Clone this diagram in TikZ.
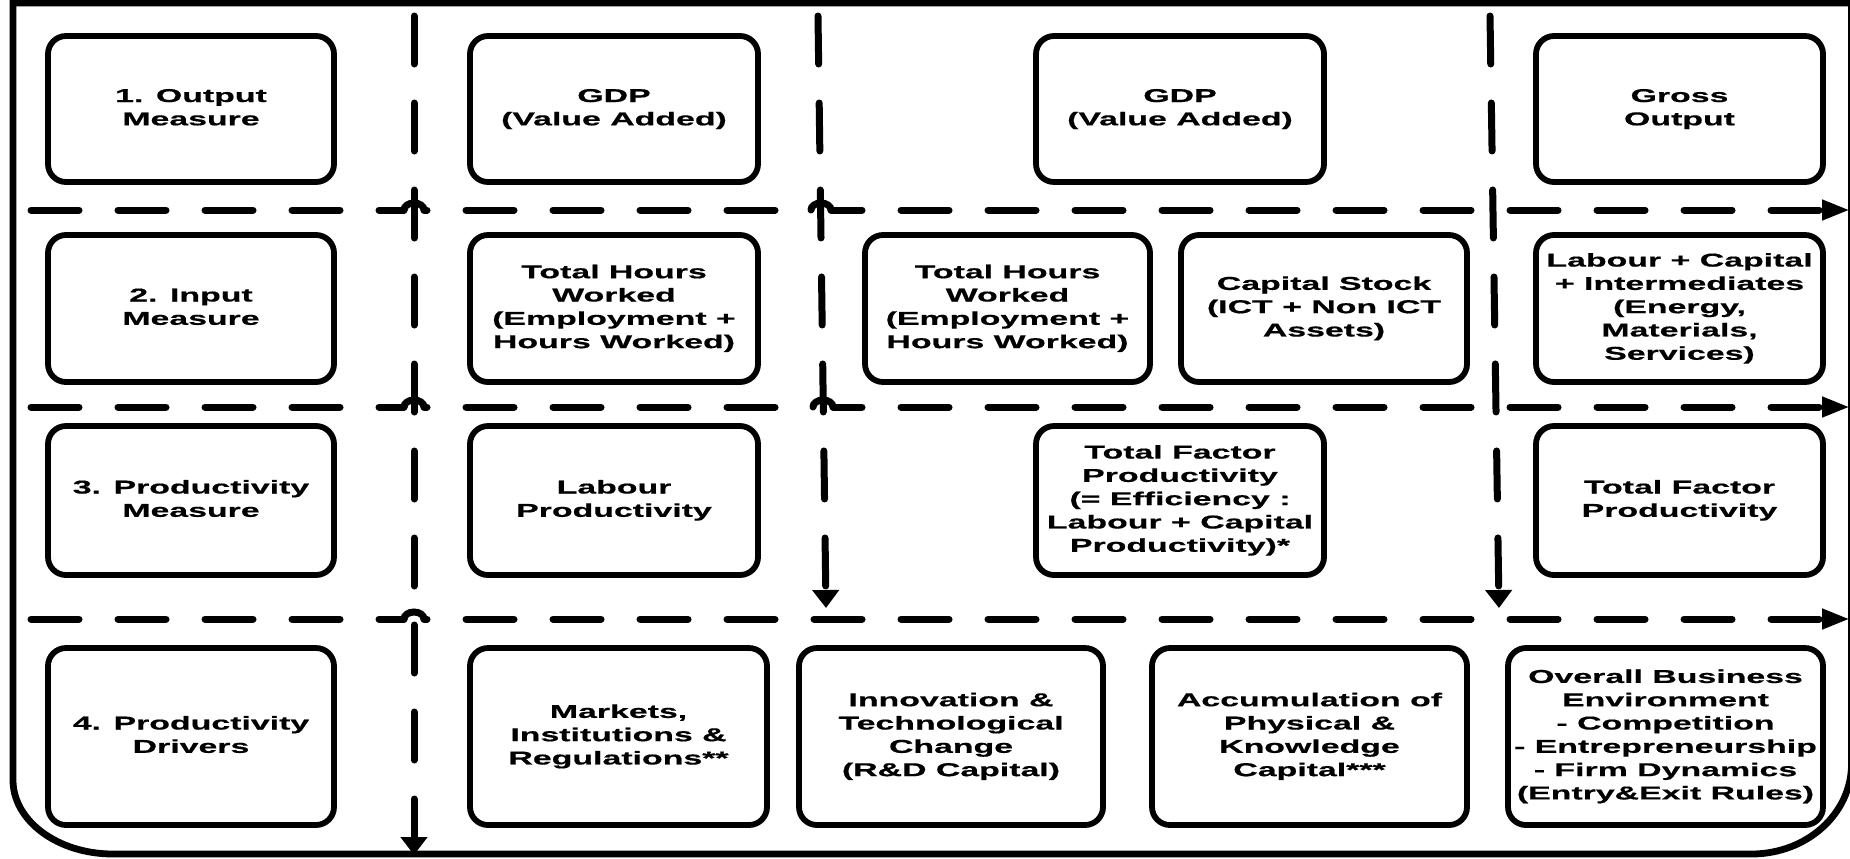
\documentclass[tikz,border=0pt]{standalone}
\usepackage{fontspec}
\newfontfamily\bxfont{Liberation Sans}[FakeStretch=1.82,FakeBold=0.6]
\usetikzlibrary{arrows.meta}
\newcommand\cell[6]{\node[box, minimum width={(#4-#2)*0.5pt}, minimum height={(#5-#3)*0.5pt}] (#1) at ({(#2+#4)/2},{(#3+#5)/2}) {\strut#6\strut};}
\begin{document}
\begin{tikzpicture}[x=0.5pt,y=-0.5pt,
  box/.style={draw, line width=2.9pt, rounded corners=9pt, align=center, inner sep=0pt,
    font=\bxfont\bfseries\fontsize{9.3}{11.65}\selectfont},
  dline/.style={line width=3.5pt, line cap=round, dash pattern=on 24pt off 19.5pt},
  hopline/.style={line width=3.5pt, line cap=round},
  frame/.style={line width=3.4pt},
  harrow/.style={-{Triangle[length=14pt,width=9.5pt]}},
  varrow/.style={-{Triangle[length=9pt,width=13pt]}}
]
\useasboundingbox (0,0) rectangle (1850,858);
% outer frame
\draw[frame] (13,3) -- (1851.5,3) -- (1851.5,764) arc[start angle=0,end angle=-90,x radius=50pt,y radius=45pt]
  -- (113,854) arc[start angle=-90,end angle=-180,x radius=50pt,y radius=37pt] -- cycle;
% boxes
\cell{o1}{48}{36}{334}{182}{1. Output\\Measure}
\cell{o2}{470}{36}{758}{182}{GDP\\(Value Added)}
\cell{o3}{1036}{36}{1324}{182}{GDP\\(Value Added)}
\cell{o4}{1536}{36}{1823}{182}{Gross\\Output}
\cell{i1}{48}{235}{334}{382}{2. Input\\Measure}
\cell{i2}{470}{235}{758}{382}{Total Hours\\Worked\\(Employment +\\Hours Worked)}
\cell{i3}{865}{235}{1150}{382}{Total Hours\\Worked\\(Employment +\\Hours Worked)}
\cell{i4}{1181}{235}{1467}{382}{Capital Stock\\(ICT + Non ICT\\Assets)}
\cell{i5}{1536}{235}{1823}{382}{Labour + Capital\\+ Intermediates\\(Energy,\\Materials,\\Services)}
\cell{p1}{48}{426}{334}{575}{3. Productivity\\Measure}
\cell{p2}{470}{426}{758}{575}{Labour\\Productivity}
\cell{p3}{1036}{426}{1324}{575}{Total Factor\\Productivity\\(= Efficiency :\\Labour + Capital\\Productivity)*}
\cell{p4}{1536}{426}{1823}{575}{Total Factor\\Productivity}
\cell{d1}{48}{648}{334}{825}{4. Productivity\\Drivers}
\cell{d2}{470}{648}{767}{825}{Markets,\\Institutions \&\\Regulations**}
\cell{d3}{799}{648}{1103}{825}{Innovation \&\\Technological\\Change\\(R\&D Capital)}
\cell{d4}{1152}{648}{1467}{825}{Accumulation of\\Physical \&\\Knowledge\\Capital***}
\cell{d5}{1508}{648}{1823}{825}{Overall Business\\Environment\\- Competition\\- Entrepreneurship\\- Firm Dynamics\\(Entry\&Exit Rules)}
% endpoints
\coordinate (v1s) at (414,16);  \coordinate (v1e) at (414,855);
\coordinate (v2s) at (818,16);  \coordinate (v2e) at (826,608);
\coordinate (v3s) at (1490,16); \coordinate (v3e) at (1499,608);
\coordinate (h1s) at (31,210);  \coordinate (h1e) at (1850,210);
\coordinate (h2s) at (31,407);  \coordinate (h2e) at (1850,407);
\coordinate (h3s) at (31,619);  \coordinate (h3e) at (1850,619);
% vertical dashed lines
\draw[dline,varrow] (v1s) -- (v1e);
\draw[dline,varrow] (v2s) -- (v2e);
\draw[dline,varrow] (v3s) -- (v3e);
% horizontal dashed lines with line jumps (dash phase kept as if straight)
\draw[dline] (h1s) -- (404,210);
\draw[hopline] (404,210) arc[start angle=180,end angle=0,x radius=5pt,y radius=3.5pt];
\draw[dline,dash phase=22.5pt] (424,210) -- (811,210);
\draw[hopline] (811,210) arc[start angle=180,end angle=0,x radius=5pt,y radius=3.5pt];
\draw[dline,dash phase=8.5pt,harrow] (831,210) -- (h1e);
\draw[dline] (h2s) -- (404,407);
\draw[hopline] (404,407) arc[start angle=180,end angle=0,x radius=5pt,y radius=3.5pt];
\draw[dline,dash phase=22.5pt] (424,407) -- (813,407);
\draw[hopline] (813,407) arc[start angle=180,end angle=0,x radius=5pt,y radius=3.5pt];
\draw[dline,dash phase=9.5pt,harrow] (833,407) -- (h2e);
\draw[dline] (h3s) -- (404,619);
\draw[hopline] (404,619) arc[start angle=180,end angle=0,x radius=5pt,y radius=3.5pt];
\draw[dline,dash phase=22.5pt,harrow] (424,619) -- (h3e);
\end{tikzpicture}
\end{document}
